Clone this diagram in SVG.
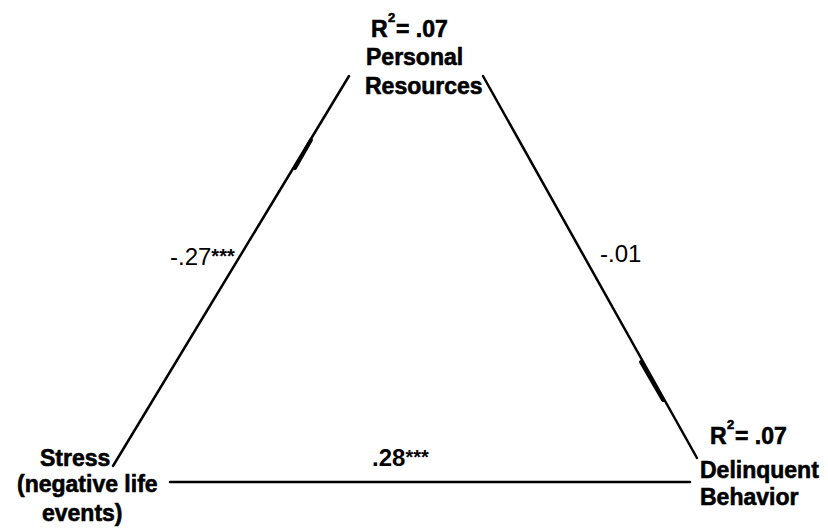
<svg xmlns="http://www.w3.org/2000/svg" width="828" height="531" viewBox="0 0 828 531">
<style>
.n{font-family:"Liberation Sans",Arial,sans-serif;font-weight:bold;font-size:23px;fill:#000;stroke:#000;stroke-width:0.6}
.sup{font-size:13px}
.lbl{font-family:"Liberation Sans",Arial,sans-serif;font-size:24px;fill:#000}
.st{font-weight:bold;font-size:20px}
.ln{stroke:#000;stroke-width:2.5;fill:none;stroke-linecap:round}
.th{stroke:#000;stroke-width:3.8;fill:none;stroke-linecap:round}
</style>
<rect width="828" height="531" fill="#fff"/>
<g id="connectors">
<line class="ln" x1="349" y1="76" x2="113" y2="466"/>
<line class="th" x1="311" y1="140" x2="295" y2="168"/>
<line class="ln" x1="483" y1="76" x2="697" y2="458"/>
<line class="th" x1="641" y1="362" x2="663" y2="400"/>
<line class="ln" x1="170" y1="482" x2="690" y2="482"/>
</g>
<g id="node-personal-resources">
<text class="n" x="371" y="37">R<tspan class="sup" x="388" dy="-15">2</tspan><tspan x="396" dy="15">= .07</tspan></text>
<text class="n" x="366" y="65">Personal</text>
<text class="n" x="365" y="94">Resources</text>
</g>
<g id="node-stress">
<text class="n" x="40" y="466">Stress</text>
<text class="n" x="17" y="492">(negative life</text>
<text class="n" x="42" y="521">events)</text>
</g>
<g id="node-delinquent-behavior">
<text class="n" x="710" y="444">R<tspan class="sup" x="727" dy="-15">2</tspan><tspan x="735" dy="15">= .07</tspan></text>
<text class="n" x="700" y="478">Delinquent</text>
<text class="n" x="700" y="505">Behavior</text>
</g>
<g id="labels">
<text class="lbl" x="170" y="265">-.27<tspan class="st" dy="-2">***</tspan></text>
<text class="lbl" x="600" y="262">-.01</text>
<text class="lbl" x="372" y="466" font-weight="bold">.28<tspan class="st" dy="-2">***</tspan></text>
</g>
</svg>
